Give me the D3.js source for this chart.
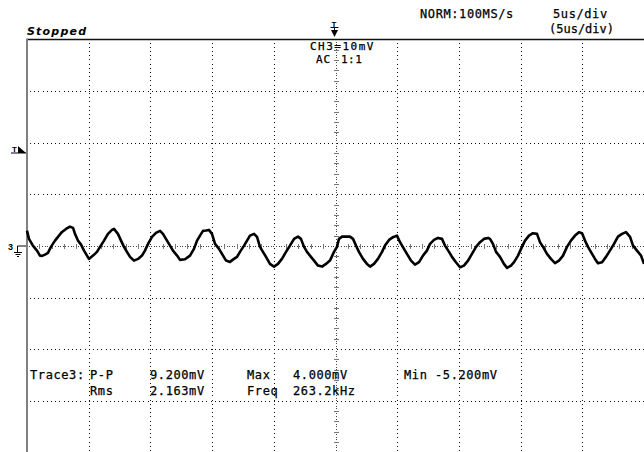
<!DOCTYPE html>
<html><head><meta charset="utf-8">
<script src="https://cdn.jsdelivr.net/npm/d3@7"></script>
<style>html,body{margin:0;padding:0;background:#fff;} svg{display:block;}</style>
</head><body>
<svg id="c" width="644" height="452"></svg>
<script>
// ---- data ----
const timeUs = [0,0.16,0.49,0.81,1.05,1.22,1.46,1.70,1.94,2.27,2.51,2.84,3.16,3.48,3.73,3.89,4.13,4.38,4.62,4.86,5.02,5.35,5.67,5.92,6.24,6.56,6.89,7.05,7.37,7.62,7.86,8.10,8.35,8.67,9.00,9.32,9.56,9.81,10.13,10.45,10.78,11.02,11.26,11.59,11.83,12.16,12.40,12.80,13.21,13.53,13.78,14.02,14.26,14.51,14.75,14.99,15.24,15.56,15.80,16.13,16.45,16.77,17.02,17.26,17.59,17.83,18.07,18.40,18.64,18.88,19.12,19.37,19.69,20.02,20.34,20.66,20.99,21.31,21.64,21.96,22.20,22.45,22.69,22.93,23.26,23.58,23.91,24.23,24.55,24.88,25.12,25.28,25.53,25.85,26.17,26.42,26.66,26.90,27.23,27.55,27.80,28.12,28.44,28.77,29.01,29.34,29.66,29.98,30.23,30.55,30.79,31.12,31.44,31.77,32.09,32.41,32.66,32.98,33.31,33.63,33.87,34.20,34.44,34.76,35.09,35.41,35.74,36.06,36.39,36.71,37.03,37.36,37.52,37.76,38.01,38.33,38.65,38.90,39.22,39.47,39.79,40.11,40.36,40.68,41.00,41.33,41.57,41.82,42.14,42.46,42.79,43.11,43.44,43.76,44.08,44.41,44.73,44.98,45.22,45.46,45.79,46.03,46.27,46.60,46.92,47.24,47.57,47.89,48.22,48.54,48.87,49.11,49.43,49.76,50.00];
const voltageMv = [2.97,1.36,0,-0.91,-1.88,-1.94,-1.69,-1.36,-0.19,1.03,1.74,2.71,3.29,3.74,3.49,2.33,1.03,0.25,-0.91,-1.88,-2.52,-1.88,-1.16,-0.19,1.03,2.33,3.10,3.29,2.33,1.03,-0.19,-1.16,-2.13,-2.85,-2.52,-1.88,-0.91,0.39,1.74,2.52,2.91,2.33,1.36,0.06,-0.91,-1.88,-2.71,-2.60,-1.88,-0.58,1.03,2.00,2.91,2.97,3.10,2.33,0.39,-0.58,-1.55,-2.85,-3.10,-2.52,-2.13,-1.16,0.06,1.03,2.00,2.33,1.74,-0.19,-1.16,-2.13,-3.49,-4.01,-3.49,-2.52,-1.16,0.06,1.36,1.80,1.36,-0.19,-1.16,-1.88,-2.85,-3.82,-4.01,-3.49,-2.85,-1.16,-0.19,1.36,1.80,1.80,1.80,1.36,0.06,-1.16,-2.52,-3.49,-4.01,-3.49,-2.52,-1.16,0.06,1.16,1.69,2.00,0.72,-0.58,-1.55,-2.85,-3.62,-3.16,-1.88,-0.91,0.39,1.16,1.55,1.36,0.06,-1.16,-2.13,-3.16,-4.13,-3.82,-2.85,-1.55,-0.19,0.72,1.36,1.55,1.36,0.39,-1.16,-2.13,-3.49,-4.26,-3.82,-3.16,-1.88,-0.19,1.03,2.00,2.46,2.33,0.72,-0.19,-1.55,-2.52,-3.35,-2.85,-1.88,-0.19,1.03,2.00,2.66,2.46,1.03,-0.19,-1.55,-2.52,-3.35,-3.16,-2.13,-0.91,0.39,1.80,2.33,2.66,1.74,0.06,-0.91,-1.88,-3.49];
const timeGridUs = [0,5,10,15,20,25,30,35,40,45,50];
const voltGridMv = [-40,-30,-20,-10,0,10,20,30,40];
const headerLabels = ["NORM:100MS/s","5us/div","(5us/div)"];
const channelLabels = ["CH3=10mV","AC","1:1"];
const statusLabel = "Stopped";
const traceLabel = "Trace3:";
const measureNames = ["P-P","Max","Min","Rms","Freq"];
const measureValues = ["9.200mV","4.000mV","-5.200mV","2.163mV","263.2kHz"];

// ---- layout ----
const L = 27, T = 39.5, divW = 61.7, divH = 51.6;
const x = d3.scaleLinear().domain([0,50]).range([L, L + 10*divW]);
const y = d3.scaleLinear().domain([-40,40]).range([T + 8*divH, T]);
const svg = d3.select("#c");
const mono = "'DejaVu Sans Mono', monospace";

// graticule dotted lines
const g = svg.append("g");
g.selectAll(".vg").data(timeGridUs.filter(t => t>0 && t<50 && t!==25)).join("line")
  .attr("x1", d => Math.round(x(d))+0.5).attr("x2", d => Math.round(x(d))+0.5)
  .attr("y1", T+3).attr("y2", 452)
  .attr("stroke","#111").attr("stroke-width",1).attr("stroke-dasharray","1 3.2").attr("shape-rendering","crispEdges");
g.selectAll(".hg").data(voltGridMv.filter(v => v>-40 && v<40 && v!==0)).join("line")
  .attr("y1", d => Math.round(y(d))+0.5).attr("y2", d => Math.round(y(d))+0.5)
  .attr("x1", L+3).attr("x2", 644)
  .attr("stroke","#111").attr("stroke-width",1).attr("stroke-dasharray","1 3.2").attr("shape-rendering","crispEdges");

// center axes with minor ticks
const cx = Math.round(x(25))+0.5, cy = Math.round(y(0))+0.5;
g.append("line").attr("x1",cx).attr("x2",cx).attr("y1",T+2).attr("y2",452)
  .attr("stroke","#444").attr("stroke-dasharray","1 1.6").attr("shape-rendering","crispEdges");
g.append("line").attr("y1",cy).attr("y2",cy).attr("x1",L+2).attr("x2",644)
  .attr("stroke","#444").attr("stroke-dasharray","1 1.6").attr("shape-rendering","crispEdges");
const minorT = d3.range(1,50).filter(t => t%5!==0);
g.selectAll(".mt").data(minorT).join("line")
  .attr("x1", d => Math.round(x(d))+0.5).attr("x2", d => Math.round(x(d))+0.5)
  .attr("y1", cy-2.5).attr("y2", cy+2.5).attr("stroke","#777").attr("shape-rendering","crispEdges");
const minorV = d3.range(-38,40,2).filter(v => v%10!==0);
g.selectAll(".mv").data(minorV).join("line")
  .attr("y1", d => Math.round(y(d))+0.5).attr("y2", d => Math.round(y(d))+0.5)
  .attr("x1", cx-2.5).attr("x2", cx+2.5).attr("stroke","#777").attr("shape-rendering","crispEdges");

// frame
svg.append("line").attr("x1",L).attr("x2",644).attr("y1",T).attr("y2",T).attr("stroke","#111").attr("stroke-width",1.6);
svg.append("line").attr("x1",L).attr("x2",L).attr("y1",T-1).attr("y2",452).attr("stroke","#808080").attr("stroke-width",2);

// trace
const pts = timeUs.map((t,i) => [t, voltageMv[i]]);
svg.append("path").datum(pts)
  .attr("d", d3.line().x(d => x(d[0])).y(d => y(d[1])))
  .attr("fill","none").attr("stroke","#000").attr("stroke-width",2.6).attr("stroke-linejoin","round");

// texts
function txt(s, px, py, size, opts={}) {
  return svg.append("text").attr("x",px).attr("y",py).text(s)
    .attr("font-family", opts.family || mono).attr("font-size", size)
    .attr("font-weight", opts.weight || "normal").attr("font-style", opts.style || "normal")
    .attr("letter-spacing", opts.ls == null ? 0.6 : opts.ls).attr("fill","#000")
    .attr("stroke", opts.noStroke ? "none" : "#000").attr("stroke-width", 0.25);
}
txt(statusLabel, 27, 34.5, 11, {family:"'DejaVu Sans', sans-serif", weight:"bold", style:"italic", ls:1.2, noStroke:true});
txt(headerLabels[0], 420, 18, 12);
txt(headerLabels[1], 553, 18, 12);
txt(headerLabels[2], 549, 33, 12, {ls:0});
txt(channelLabels[0], 310, 49.5, 11, {ls:1.5});
txt(channelLabels[1], 316, 62.5, 11, {ls:1});
txt(channelLabels[2], 341, 62.5, 11, {ls:0.5});

// measurement block
const r1 = 379, r2 = 395;
txt(traceLabel, 30, r1, 12);
const nameX = [90, 247, 404, 90, 247];
const valX  = [150, 293, 435, 150, 293];
const rowY  = [r1, r1, r1, r2, r2];
measureNames.forEach((n,i) => txt(n, nameX[i], rowY[i], 12));
measureValues.forEach((v,i) => txt(v, valX[i], rowY[i], 12));

// trigger marker (top)
const tx = cx - 2;
txt("T", tx-3, 27, 8, {family:"'Liberation Sans', sans-serif", weight:"bold", ls:0, noStroke:true});
svg.append("path").attr("d", `M${tx-4},27.5H${tx+4}M${tx},27.5V31`).attr("stroke","#000").attr("stroke-width",1);
svg.append("path").attr("d", `M${tx-3.5},30L${tx+3.5},30L${tx},37Z`).attr("fill","#000");
// trigger level marker (left)
const ty = 153;
txt("T", 12, ty-1, 8, {family:"'Liberation Sans', sans-serif", weight:"bold", ls:0, noStroke:true});
svg.append("path").attr("d", `M11,${ty}H26`).attr("stroke","#000").attr("stroke-width",1);
svg.append("path").attr("d", `M18,${ty-7}L26,${ty}L18,${ty}Z`).attr("fill","#000");
// ground marker
const gy = Math.round(y(0));
txt("3", 8, gy+4, 9, {family:"'Liberation Sans', sans-serif", weight:"bold", ls:0, noStroke:true});
svg.append("path").attr("d", `M17.5,${gy}H26M17.5,${gy}V${gy+6}M14,${gy+6.5}H22M15.5,${gy+8.5}H20.5M17,${gy+10.5}H19`)
  .attr("stroke","#000").attr("stroke-width",1).attr("fill","none");
</script>
</body></html>
